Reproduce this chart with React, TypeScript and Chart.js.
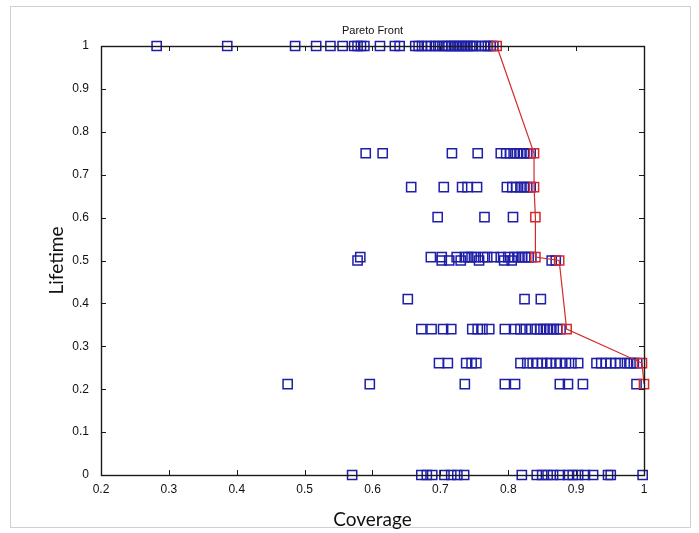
import React, { useEffect, useRef } from "react";
import { Chart, registerables } from "chart.js";

Chart.register(...registerables);

// Tick values
const xTicks = [0.2, 0.3, 0.4, 0.5, 0.6, 0.7, 0.8, 0.9, 1];
const yTicks = [0, 0.1, 0.2, 0.3, 0.4, 0.5, 0.6, 0.7, 0.8, 0.9, 1];

// Solutions (Coverage values) grouped by Lifetime level
const lifetime100 = 1.0;
const coverage100 = [0.282, 0.386, 0.486, 0.517, 0.538, 0.556, 0.573, 0.578, 0.583, 0.588, 0.611, 0.633, 0.640, 0.663, 0.668, 0.673, 0.680, 0.686, 0.692, 0.697, 0.703, 0.708, 0.712, 0.716, 0.720, 0.724, 0.728, 0.732, 0.736, 0.740, 0.744, 0.748, 0.752, 0.760, 0.766, 0.770, 0.774, 0.778];

const lifetime75 = 0.75;
const coverage75 = [0.590, 0.615, 0.717, 0.755, 0.789, 0.797, 0.803, 0.808, 0.813, 0.818, 0.823, 0.828, 0.833];

const lifetime67 = 0.671;
const coverage67 = [0.657, 0.705, 0.732, 0.740, 0.754, 0.798, 0.806, 0.812, 0.818, 0.823, 0.828, 0.833];

const lifetime60 = 0.601;
const coverage60 = [0.696, 0.765, 0.807];

const lifetime51 = 0.508;
const coverage51 = [0.582, 0.686, 0.702, 0.724, 0.736, 0.741, 0.746, 0.752, 0.763, 0.769, 0.779, 0.789, 0.800, 0.809, 0.815, 0.820, 0.825, 0.830, 0.834];

const lifetime50 = 0.5;
const coverage50 = [0.578, 0.702, 0.713, 0.730, 0.757, 0.794, 0.805, 0.864, 0.870];

const lifetime41 = 0.41;
const coverage41 = [0.652, 0.824, 0.848];

const lifetime34 = 0.34;
const coverage34 = [0.672, 0.687, 0.704, 0.716, 0.747, 0.755, 0.762, 0.772, 0.795, 0.810, 0.818, 0.826, 0.834, 0.842, 0.847, 0.852, 0.857, 0.862, 0.867, 0.872, 0.877];

const lifetime26 = 0.261;
const coverage26 = [0.698, 0.711, 0.738, 0.746, 0.753, 0.818, 0.828, 0.836, 0.843, 0.850, 0.857, 0.862, 0.870, 0.877, 0.885, 0.893, 0.903, 0.930, 0.937, 0.944, 0.951, 0.958, 0.965, 0.975, 0.980, 0.985, 0.990];

const lifetime21 = 0.212;
const coverage21 = [0.475, 0.596, 0.736, 0.795, 0.810, 0.876, 0.888, 0.910, 0.989];

const lifetime0 = 0;
const coverage0 = [0.570, 0.672, 0.680, 0.688, 0.706, 0.716, 0.725, 0.735, 0.820, 0.842, 0.850, 0.858, 0.866, 0.876, 0.888, 0.895, 0.903, 0.913, 0.925, 0.947, 0.951, 0.998];

// Pareto front
const paretoCoverage = [0.783, 0.838, 0.838, 0.840, 0.840, 0.875, 0.886, 0.997, 1.0];
const paretoLifetime = [1.0, 0.75, 0.671, 0.601, 0.508, 0.5, 0.34, 0.261, 0.212];

const groups: [number, number[]][] = [
  [lifetime100, coverage100],
  [lifetime75, coverage75],
  [lifetime67, coverage67],
  [lifetime60, coverage60],
  [lifetime51, coverage51],
  [lifetime50, coverage50],
  [lifetime41, coverage41],
  [lifetime34, coverage34],
  [lifetime26, coverage26],
  [lifetime21, coverage21],
  [lifetime0, coverage0],
];

const W = 699;
const H = 533;
const AREA_LEFT = 101;
const AREA_RIGHT = 644;
const AREA_TOP = 46;
const AREA_BOTTOM = 475;

const framePlugin = {
  id: "frame",
  beforeDraw(chart: any) {
    const ctx = chart.ctx;
    ctx.save();
    ctx.fillStyle = "#ffffff";
    ctx.fillRect(0, 0, chart.width, chart.height);
    ctx.strokeStyle = "#d0d0d0";
    ctx.lineWidth = 1;
    ctx.strokeRect(10.5, 6.5, 680, 521);
    ctx.restore();
  },
  afterDatasetsDraw(chart: any) {
    const { ctx, chartArea, scales } = chart;
    const { left, right, top, bottom } = chartArea;
    ctx.save();
    ctx.strokeStyle = "#1a1a1a";
    ctx.lineWidth = 1;
    const tl = 5;
    ctx.beginPath();
    xTicks.forEach((v) => {
      const x = Math.round(scales.x.getPixelForValue(v)) + 0.5;
      ctx.moveTo(x, bottom);
      ctx.lineTo(x, bottom - tl);
      ctx.moveTo(x, top);
      ctx.lineTo(x, top + tl);
    });
    yTicks.forEach((v) => {
      const y = Math.round(scales.y.getPixelForValue(v)) + 0.5;
      ctx.moveTo(left, y);
      ctx.lineTo(left + tl, y);
      ctx.moveTo(right, y);
      ctx.lineTo(right - tl, y);
    });
    ctx.stroke();
    ctx.lineWidth = 1.4;
    ctx.strokeRect(Math.round(left) + 0.5, Math.round(top) + 0.5, Math.round(right - left), Math.round(bottom - top));
    ctx.restore();
  },
};

export default function App() {
  const ref = useRef<HTMLCanvasElement>(null);

  useEffect(() => {
    if (!ref.current) return;
    const solutions: { x: number; y: number }[] = [];
    groups.forEach(([lt, covs]) => covs.forEach((c) => solutions.push({ x: c, y: lt })));
    const front = paretoCoverage.map((c, i) => ({ x: c, y: paretoLifetime[i] }));

    const tickFont = { family: "'Liberation Sans', Arial, sans-serif", size: 12 };

    const chart = new Chart(ref.current, {
      type: "scatter",
      data: {
        datasets: [
          {
            label: "Pareto Front",
            data: front,
            showLine: true,
            borderColor: "#d42a2a",
            borderWidth: 1.2,
            pointStyle: "rect",
            pointRadius: 6.5,
            pointBorderColor: "#d42a2a",
            pointBackgroundColor: "rgba(0,0,0,0)",
            pointBorderWidth: 1.5,
            clip: false,
          } as any,
          {
            label: "Solutions",
            data: solutions,
            showLine: false,
            pointStyle: "rect",
            pointRadius: 6.5,
            pointBorderColor: "#1e1ea6",
            pointBackgroundColor: "rgba(0,0,0,0)",
            pointBorderWidth: 1.5,
            clip: false,
          } as any,
        ],
      },
      options: {
        responsive: false,
        maintainAspectRatio: false,
        animation: false,
        devicePixelRatio: 1,
        layout: { padding: { left: 10, right: W - AREA_RIGHT, top: 0, bottom: 0 } },
        plugins: {
          legend: { display: false },
          tooltip: { enabled: false },
          title: {
            display: true,
            text: "Pareto Front",
            fullSize: false,
            color: "#111",
            font: { family: "'Liberation Sans', Arial, sans-serif", size: 11, weight: "normal" },
            padding: { top: 24, bottom: AREA_TOP - 24 - 13.2 },
          },
        },
        scales: {
          x: {
            type: "linear",
            min: 0.2,
            max: 1,
            afterFit: (s: any) => {
              s.height = H - AREA_BOTTOM;
            },
            afterBuildTicks: (s: any) => {
              s.ticks = xTicks.map((v) => ({ value: v }));
            },
            grid: { display: false, drawTicks: false },
            border: { display: false },
            ticks: {
              padding: 7,
              color: "#111",
              font: tickFont,
              maxRotation: 0,
              callback: (v: any) => String(Number(Number(v).toFixed(1))),
            },
            title: {
              display: true,
              text: "Coverage",
              color: "#111",
              font: { family: "Lato, 'Open Sans', sans-serif", size: 19 },
              padding: { top: 0, bottom: 2 },
            },
          },
          y: {
            type: "linear",
            min: 0,
            max: 1,
            afterFit: (s: any) => {
              s.width = AREA_LEFT - 10;
            },
            afterBuildTicks: (s: any) => {
              s.ticks = yTicks.map((v) => ({ value: v }));
            },
            grid: { display: false, drawTicks: false },
            border: { display: false },
            ticks: {
              padding: 12,
              color: "#111",
              font: tickFont,
              callback: (v: any) => String(Number(Number(v).toFixed(1))),
            },
            title: {
              display: true,
              text: "Lifetime",
              color: "#111",
              font: { family: "Lato, 'Open Sans', sans-serif", size: 19 },
              padding: { top: 35, bottom: 0 },
            },
          },
        },
      },
      plugins: [framePlugin],
    });
    return () => chart.destroy();
  }, []);

  return (
    <div style={{ position: "fixed", left: 0, top: 0, width: W, height: H, background: "#fff" }}>
      <canvas ref={ref} width={W} height={H} style={{ display: "block", width: W, height: H }} />
    </div>
  );
}
